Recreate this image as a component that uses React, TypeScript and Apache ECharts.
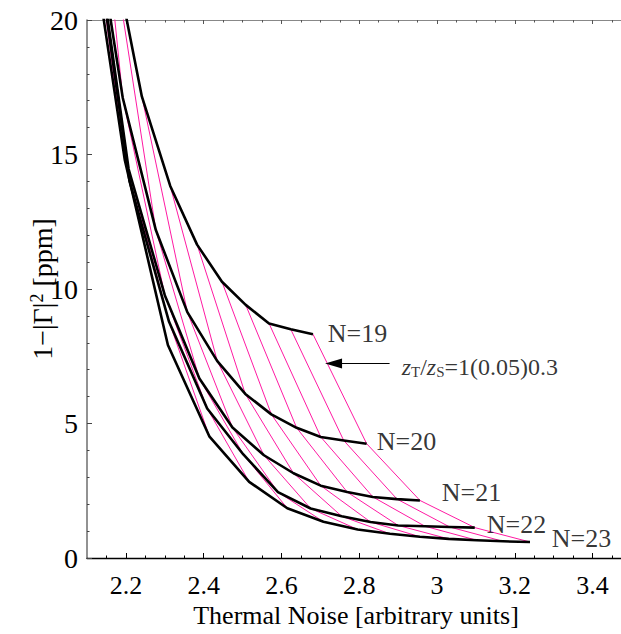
import React, { useEffect, useRef } from "react";
import * as echarts from "echarts";

// zT/zS ratio for each point index: 1.00, 0.95, ..., 0.30
const ratios = [1.0, 0.95, 0.9, 0.85, 0.8, 0.75, 0.7, 0.65, 0.6, 0.55, 0.5, 0.45, 0.4, 0.35, 0.3];

// [thermal noise, 1-|Γ|^2 ppm] for each ratio, per doublet count N
const n19: number[][] = [
  [2.681, 8.32], [2.624, 8.5], [2.568, 8.72], [2.508, 9.41], [2.447, 10.27],
  [2.383, 11.65], [2.314, 13.83], [2.241, 17.16], [2.164, 22.8], [2.083, 32.6],
  [1.999, 45], [1.911, 60], [1.818, 80], [1.722, 105], [1.622, 135],
];
const n20: number[][] = [
  [2.819, 4.25], [2.76, 4.37], [2.701, 4.5], [2.639, 4.84], [2.574, 5.34],
  [2.507, 6.1], [2.435, 7.32], [2.358, 9.14], [2.277, 12.19], [2.192, 17.1],
  [2.103, 25.4], [2.01, 35], [1.913, 48], [1.812, 63], [1.707, 82],
];
const n21: number[][] = [
  [2.956, 2.14], [2.897, 2.19], [2.835, 2.27], [2.769, 2.45], [2.701, 2.69],
  [2.631, 3.15], [2.555, 3.82], [2.474, 4.85], [2.389, 6.67], [2.3, 9.77],
  [2.207, 14.46], [2.109, 24.6], [2.007, 37], [1.901, 50], [1.791, 65],
];
const n22: number[][] = [
  [3.097, 1.13], [3.033, 1.15], [2.969, 1.18], [2.9, 1.21], [2.829, 1.34],
  [2.755, 1.55], [2.675, 1.84], [2.591, 2.45], [2.502, 3.85], [2.409, 5.56],
  [2.311, 8.78], [2.209, 14.03], [2.102, 25.2], [1.991, 38], [1.875, 52],
];
const n23: number[][] = [
  [3.239, 0.595], [3.17, 0.62], [3.102, 0.66], [3.03, 0.71], [2.956, 0.79],
  [2.879, 0.9], [2.796, 1.06], [2.708, 1.35], [2.615, 1.85], [2.517, 2.83],
  [2.415, 4.51], [2.308, 7.92], [2.197, 14.81], [2.081, 26], [1.96, 40],
];

const curveNames = ["N=19", "N=20", "N=21", "N=22", "N=23"];
const curves = [n19, n20, n21, n22, n23];
// anchor (left-middle) of each N label, data coords
const labelAnchors: number[][] = [
  [2.719, 8.35], [2.845, 4.34], [3.012, 2.45], [3.128, 1.25], [3.295, 0.73],
];

const X_MIN = 2.1;
const X_MAX = 3.473;
const xMajorTicks = [2.2, 2.4, 2.6, 2.8, 3, 3.2, 3.4];
const xMinorTicks = [
  2.15, 2.25, 2.3, 2.35, 2.45, 2.5, 2.55, 2.65, 2.7, 2.75, 2.85, 2.9, 2.95,
  3.05, 3.1, 3.15, 3.25, 3.3, 3.35, 3.45,
];

const arrowFrom = [2.878, 7.23];
const arrowTo = [2.734, 7.23];
const noteAnchor = [2.909, 7.1];

const FONT = "'Liberation Serif', 'Times New Roman', serif";
const MAGENTA = "#ff1aa3";

function tickAxis(position: string, values: number[], length: number, showLine: boolean, lineColor: string, tickColor: string) {
  return {
    type: "value",
    min: X_MIN,
    max: X_MAX,
    position,
    axisLine: { show: showLine, onZero: false, lineStyle: { color: lineColor, width: 1.2 } },
    axisLabel: { show: false },
    axisTick: {
      show: true,
      inside: true,
      length,
      customValues: values,
      lineStyle: { color: tickColor, width: 1 },
    },
    splitLine: { show: false },
  };
}

export default function App() {
  const ref = useRef<HTMLDivElement>(null);

  useEffect(() => {
    const chart = echarts.init(ref.current!, null, { renderer: "svg" });

    const magentaSeries = ratios.map((r, k) => ({
      type: "line",
      name: "r" + r,
      data: curves.map((c) => c[k]),
      symbol: "none",
      clip: true,
      silent: true,
      z: 2,
      lineStyle: { color: MAGENTA, width: 1 },
    }));

    const blackSeries = curves.map((c, i) => ({
      type: "line",
      name: curveNames[i],
      data: c,
      symbol: "none",
      clip: true,
      silent: true,
      z: 3,
      lineStyle: { color: "#000", width: 2.6, join: "round" },
    }));

    const option: any = {
      animation: false,
      backgroundColor: "#fff",
      grid: { left: 87, right: 0, top: 20, bottom: 76, containLabel: false },
      xAxis: [
        {
          type: "value",
          min: X_MIN,
          max: X_MAX,
          axisLine: { show: true, onZero: false, lineStyle: { color: "#000", width: 1.3 } },
          axisTick: {
            show: true,
            inside: true,
            length: 5,
            customValues: xMajorTicks,
            lineStyle: { color: "#000", width: 1 },
          },
          axisLabel: {
            show: true,
            customValues: xMajorTicks,
            fontSize: 26,
            lineHeight: 22,
            fontFamily: FONT,
            color: "#000",
            margin: 16,
            formatter: (v: number) => String(Math.round(v * 10) / 10),
          },
          splitLine: { show: false },
        },
        tickAxis("bottom", xMinorTicks, 2.5, false, "#000", "#000"),
        tickAxis("top", xMajorTicks, 4, true, "#888", "#555"),
        tickAxis("top", xMinorTicks, 2.5, false, "#888", "#555"),
      ],
      yAxis: {
        type: "value",
        min: 0,
        max: 20,
        interval: 5,
        axisLine: { show: true, onZero: false, lineStyle: { color: "#777", width: 1.6 } },
        axisTick: { show: true, inside: true, length: 5, lineStyle: { color: "#444" } },
        minorTick: { show: true, splitNumber: 5, length: 2.5, lineStyle: { color: "#444" } },
        axisLabel: { fontSize: 28, lineHeight: 24, fontFamily: FONT, color: "#000", margin: 9 },
        splitLine: { show: false },
        minorSplitLine: { show: false },
      },
      series: [
        ...magentaSeries,
        ...blackSeries,
        {
          type: "scatter",
          name: "labels",
          symbolSize: 0,
          silent: true,
          z: 5,
          data: labelAnchors.map((p, i) => ({ value: p, name: curveNames[i] })),
          label: {
            show: true,
            position: "right",
            distance: 0,
            formatter: (p: any) => p.name,
            fontSize: 26,
            lineHeight: 24,
            fontFamily: FONT,
            color: "#000",
          },
          markLine: {
            silent: true,
            symbol: ["none", "triangle"],
            symbolSize: [10, 17],
            label: { show: false },
            lineStyle: { color: "#000", width: 1, type: "solid" },
            data: [[{ coord: arrowFrom }, { coord: arrowTo }]],
          },
        },
        {
          type: "scatter",
          name: "note",
          symbolSize: 0,
          silent: true,
          z: 5,
          data: [{ value: noteAnchor, name: "note" }],
          label: {
            show: true,
            position: "right",
            distance: 0,
            formatter: "{i|z}{s|T}/{i|z}{s|S}=1(0.05)0.3",
            fontSize: 24,
            fontFamily: FONT,
            color: "#000",
            rich: {
              i: { fontSize: 24, fontStyle: "italic", fontFamily: FONT, color: "#000" },
              s: { fontSize: 15, fontFamily: FONT, color: "#000", verticalAlign: "bottom", padding: [9, 0, 0, 0] },
            },
          },
        },
      ],
      graphic: [
        {
          type: "text",
          x: 356,
          y: 615,
          style: {
            text: "Thermal Noise [arbitrary units]",
            font: "26px " + FONT,
            lineHeight: 22,
            fill: "#000",
            align: "center",
            verticalAlign: "middle",
          },
        },
        {
          type: "text",
          x: 42,
          y: 289,
          rotation: Math.PI / 2,
          style: {
            text: "1−|Γ|{sup|2}\u00a0[ppm]",
            font: "28px " + FONT,
            fill: "#000",
            align: "center",
            verticalAlign: "middle",
            rich: {
              sup: { fontSize: 18, fontFamily: FONT, fill: "#000", verticalAlign: "top", padding: [0, 0, 10, 0] },
            },
          },
        },
      ],
    };

    chart.setOption(option);
    return () => chart.dispose();
  }, []);

  return (
    <div
      ref={ref}
      style={{ position: "fixed", left: 0, top: 0, width: 621, height: 634, background: "#fff" }}
    />
  );
}
